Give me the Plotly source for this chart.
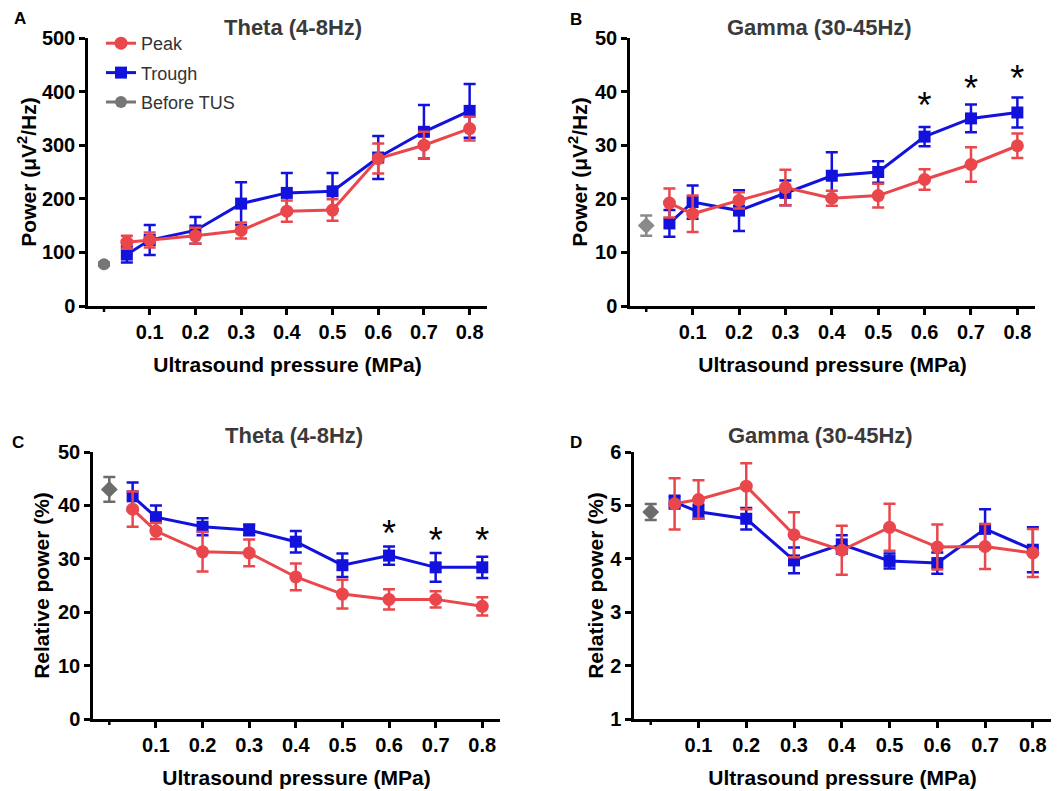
import plotly.graph_objects as go

# ---------------- data ----------------
x_before = [0.0]
x_vals = [0.05, 0.1, 0.2, 0.3, 0.4, 0.5, 0.6, 0.7, 0.8]
x_tickvals = [0.1, 0.2, 0.3, 0.4, 0.5, 0.6, 0.7, 0.8]
x_ticktext = ["0.1", "0.2", "0.3", "0.4", "0.5", "0.6", "0.7", "0.8"]
x_blank_tick = [0.0]

# Panel A: Theta absolute power
a_peak = [119, 123, 131, 141, 177, 179, 275, 300, 331]
a_peak_err = [12, 14, 15, 15, 20, 20, 28, 25, 22]
a_trough = [96, 123, 141, 191, 211, 214, 277, 325, 364]
a_trough_err = [15, 28, 25, 40, 37, 34, 40, 50, 50]
a_before = [78]
a_before_err = [3]

# Panel B: Gamma absolute power
b_peak = [19.2, 17.2, 19.7, 22.1, 20.1, 20.6, 23.6, 26.4, 29.9]
b_peak_err = [2.7, 3.4, 1.5, 3.3, 1.4, 2.2, 1.9, 3.2, 2.3]
b_trough = [15.4, 19.4, 17.8, 21.1, 24.3, 25.0, 31.6, 35.0, 36.1]
b_trough_err = [2.5, 3.1, 3.8, 2.3, 4.4, 2.0, 1.8, 2.6, 2.8]
b_before = [15.0]
b_before_err = [1.9]
b_sig_x = [0.6, 0.7, 0.8]
b_sig_y = [36.7, 39.9, 41.7]

# Panel C: Theta relative power
c_peak = [39.3, 35.2, 31.3, 31.1, 26.6, 23.4, 22.4, 22.4, 21.1]
c_peak_err = [3.3, 1.5, 3.7, 2.5, 2.5, 2.7, 1.9, 1.5, 1.7]
c_trough = [41.7, 37.8, 36.0, 35.4, 33.2, 28.8, 30.6, 28.4, 28.4]
c_trough_err = [2.6, 2.2, 1.6, 1.0, 2.0, 2.2, 1.7, 2.7, 2.0]
c_before = [43.0]
c_before_err = [2.3]
c_sig_x = [0.6, 0.7, 0.8]
c_sig_y = [34.0, 32.8, 32.8]

# Panel D: Gamma relative power
d_peak = [5.03, 5.11, 5.36, 4.45, 4.16, 4.59, 4.22, 4.23, 4.11]
d_peak_err = [0.48, 0.36, 0.43, 0.42, 0.46, 0.44, 0.42, 0.42, 0.45]
d_trough = [5.06, 4.88, 4.75, 3.97, 4.27, 3.96, 3.92, 4.56, 4.17]
d_trough_err = [0.12, 0.13, 0.2, 0.24, 0.17, 0.14, 0.2, 0.37, 0.42]
d_before = [4.875]
d_before_err = [0.15]

titles = ["Theta (4-8Hz)", "Gamma (30-45Hz)", "Theta (4-8Hz)", "Gamma (30-45Hz)"]
letters = ["A", "B", "C", "D"]
y_titles = ["Power (μV<sup>2</sup>/Hz)", "Power (μV<sup>2</sup>/Hz)",
            "Relative power (%)", "Relative power (%)"]
x_title = "Ultrasound pressure (MPa)"

# ---------------- style ----------------
RED = "#E9474C"
BLUE = "#1212DC"
GRAY_LIST = ["#767676", "#8A8A8A", "#6C6C6C", "#6C6C6C"]
FONT = "Liberation Sans, Arial, sans-serif"
W, H = 1062, 791

fig = go.Figure()

panels = [
    (a_peak, a_peak_err, a_trough, a_trough_err, a_before, a_before_err, "circle", None, None),
    (b_peak, b_peak_err, b_trough, b_trough_err, b_before, b_before_err, "diamond", b_sig_x, b_sig_y),
    (c_peak, c_peak_err, c_trough, c_trough_err, c_before, c_before_err, "diamond", c_sig_x, c_sig_y),
    (d_peak, d_peak_err, d_trough, d_trough_err, d_before, d_before_err, "diamond", None, None),
]

# pixel layout of plot areas: (left, right, top, bottom)
px_boxes = [(88, 487, 38, 306), (630, 1035, 38, 306), (93, 500, 452, 719), (634, 1051, 452, 719)]
y_ranges = [[0, 500], [0, 50], [0, 50], [1, 6]]
y_dticks = [100, 10, 10, 1]
y_standoff = [0, 2, 3, 1]

for i, (pk, pke, tr, tre, bf, bfe, bsym, sx, sy) in enumerate(panels):
    n = "" if i == 0 else str(i + 1)
    xa, ya = "x" + n, "y" + n
    show = i == 0
    gray = GRAY_LIST[i]
    fig.add_trace(go.Scatter(
        x=x_vals, y=tr, xaxis=xa, yaxis=ya, name="Trough", legendrank=2,
        legendgroup="trough",
        mode="lines+markers", showlegend=show,
        line=dict(color=BLUE, width=3),
        marker=dict(symbol="square", size=12, color=BLUE),
        error_y=dict(type="data", array=tre, color=BLUE, thickness=2.5, width=6),
        cliponaxis=False))
    fig.add_trace(go.Scatter(
        x=x_vals, y=pk, xaxis=xa, yaxis=ya, name="Peak", legendrank=1,
        legendgroup="peak",
        mode="lines+markers", showlegend=show,
        line=dict(color=RED, width=3),
        marker=dict(symbol="circle", size=13, color=RED),
        error_y=dict(type="data", array=pke, color=RED, thickness=2.5, width=6),
        cliponaxis=False))
    fig.add_trace(go.Scatter(
        x=x_before, y=bf, xaxis=xa, yaxis=ya, name="Before TUS", legendrank=3,
        legendgroup="before",
        mode="lines+markers", showlegend=show,
        line=dict(color=gray, width=3),
        marker=dict(symbol=bsym, size=12 if bsym == "circle" else 13, color=gray),
        error_y=dict(type="data", array=bfe, color=gray, thickness=2.5, width=6),
        cliponaxis=False))
    if sx is not None:
        fig.add_trace(go.Scatter(
            x=sx, y=sy, xaxis=xa, yaxis=ya, mode="text", text=["*"] * len(sx),
            textfont=dict(family=FONT, size=36, color="black"),
            showlegend=False, hoverinfo="skip", cliponaxis=False))

    l, r, t, b = px_boxes[i]
    axis_common = dict(
        showline=True, linecolor="black", linewidth=2.5, ticks="outside",
        ticklen=6, tickwidth=2.5, tickcolor="black", showgrid=False,
        zeroline=False, mirror=False, automargin=False,
        tickfont=dict(family=FONT, size=20, color="black", weight="bold"),
    )
    fig.layout["xaxis" + n] = dict(
        axis_common, domain=[l / W, r / W], range=[-0.035, 0.838],
        tickvals=x_tickvals, ticktext=x_ticktext, anchor=ya,
        title=dict(text=x_title, standoff=16,
                   font=dict(family=FONT, size=21, color="black", weight="bold")))
    fig.layout["yaxis" + n] = dict(
        axis_common, domain=[1 - b / H, 1 - t / H], range=y_ranges[i],
        dtick=y_dticks[i], anchor=xa,
        title=dict(text=y_titles[i], standoff=y_standoff[i],
                   font=dict(family=FONT, size=21, color="black", weight="bold")))

    # unlabeled tick mark under the "Before TUS" position
    for xv in x_blank_tick:
        fig.add_shape(type="line", xref=xa, yref=ya + " domain",
                      x0=xv, x1=xv, ysizemode="pixel", yanchor=0, y0=0, y1=-6,
                      line=dict(color="black", width=2.5), layer="above")

# titles & panel letters
title_pos = [(293, 27), (819, 27), (294, 435), (820, 435)]
letter_pos = [(20, 18), (576, 20), (18, 442), (576, 442)]
for i in range(4):
    tx, ty = title_pos[i]
    fig.add_annotation(x=tx / W, y=1 - ty / H, xref="paper", yref="paper",
                       text=titles[i], showarrow=False, xanchor="center", yanchor="middle",
                       font=dict(family=FONT, size=22, color="#3A3A3A", weight="bold"))
    lx, ly = letter_pos[i]
    fig.add_annotation(x=lx / W, y=1 - ly / H, xref="paper", yref="paper",
                       text=letters[i], showarrow=False, xanchor="center", yanchor="middle",
                       font=dict(family=FONT, size=17, color="black", weight="bold"))

fig.update_layout(
    width=W, height=H, margin=dict(l=0, r=0, t=0, b=0, pad=0, autoexpand=False),
    plot_bgcolor="white", paper_bgcolor="white",
    showlegend=True,
    legend=dict(x=101 / W, y=1 - 25 / H, xanchor="left", yanchor="top",
                bgcolor="rgba(0,0,0,0)", itemwidth=30,
                font=dict(family=FONT, size=18, color="#333333"),
                tracegroupgap=3),
)

post = ("document.body.style.margin='0px';document.body.style.padding='0px';"
        "var d=document.getElementById('{plot_id}');"
        "d.style.position='absolute';d.style.left='0px';d.style.top='0px';")
fig.write_html("out.html", post_script=post, config={"displayModeBar": False})
